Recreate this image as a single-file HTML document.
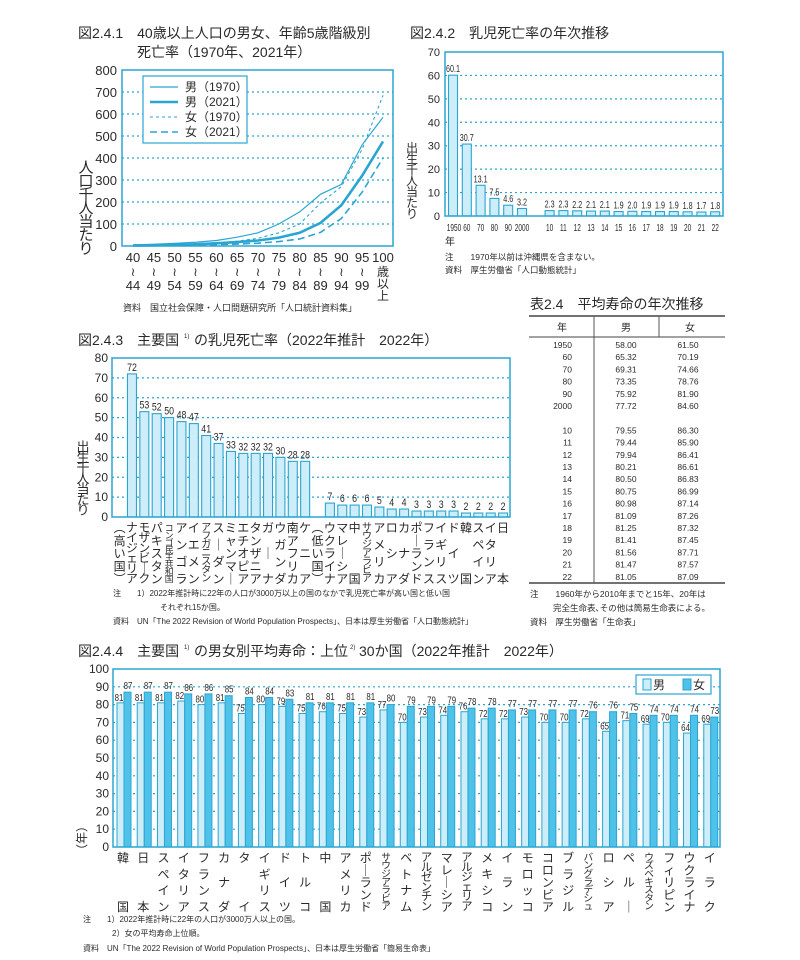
<!DOCTYPE html>
<html><head><meta charset="utf-8">
<style>
html,body{margin:0;padding:0;background:#fff;}
svg{display:block;font-family:"Liberation Sans","Noto Sans CJK JP",sans-serif;}
</style></head>
<body>
<svg id="page" width="800" height="960" viewBox="0 0 800 960" xmlns="http://www.w3.org/2000/svg"></svg>
<script>
// ===== Chart 2.4.1 data =====
const ageCats = ["40","45","50","55","60","65","70","75","80","85","90","95","100"];
const ageCatsEnd = ["44","49","54","59","64","69","74","79","84","89","94","99",""];
const male1970 = [5,8,12,17,25,40,60,100,155,235,280,460,585];
const male2021 = [2,3,5,8,12,18,25,38,60,105,185,320,475];
const female1970 = [3,5,7,10,15,22,35,60,100,195,270,440,685];
const female2021 = [1,2,3,4,6,9,13,20,32,62,125,245,400];
const c1Ticks = [0,100,200,300,400,500,600,700,800];
// ===== Chart 2.4.2 data =====
const imrYears = ["1950","60","70","80","90","2000","10","11","12","13","14","15","16","17","18","19","20","21","22"];
const imrValues = [60.1,30.7,13.1,7.5,4.6,3.2,2.3,2.3,2.2,2.1,2.1,1.9,2.0,1.9,1.9,1.9,1.8,1.7,1.8];
const c2Ticks = [0,10,20,30,40,50,60,70];
// ===== Chart 2.4.3 data =====
const highCountries = ["ナイジェリア","モザンビーク","パキスタン","コンゴ民主共和国","アンゴラ","イエメン","アフガニスタン","スーダン","ミャンマー","エチオピア","タンザニア","ガーナ","ウガンダ","南アフリカ","ケニア"];
const highValues = [72,53,52,50,48,47,41,37,33,32,32,32,30,28,28];
const lowCountries = ["ウクライナ","マレーシア","中国","サウジアラビア","アメリカ","ロシア","カナダ","ポーランド","フランス","イギリス","ドイツ","韓国","スペイン","イタリア","日本"];
const lowValues = [7,6,6,6,5,4,4,3,3,3,3,2,2,2,2];
const c3Ticks = [0,10,20,30,40,50,60,70,80];
// ===== Chart 2.4.4 data =====
const leCountries = ["韓国","日本","スペイン","イタリア","フランス","カナダ","タイ","イギリス","ドイツ","トルコ","中国","アメリカ","ポーランド","サウジアラビア","ベトナム","アルゼンチン","マレーシア","アルジェリア","メキシコ","イラン","モロッコ","コロンビア","ブラジル","バングラデシュ","ロシア","ペルー","ウズベキスタン","フィリピン","ウクライナ","イラク"];
const leMale = [81,81,81,82,80,81,75,80,79,75,76,75,73,77,70,73,74,76,72,72,73,70,70,72,65,71,69,70,64,69];
const leFemale = [87,87,87,86,86,85,84,84,83,81,81,81,81,80,79,79,79,78,78,77,77,77,77,76,76,75,74,74,74,73];
const c4Ticks = [0,10,20,30,40,50,60,70,80,90,100];
// ===== Table 2.4 data =====
const tblYears = ["1950","60","70","80","90","2000","","10","11","12","13","14","15","16","17","18","19","20","21","22"];
const tblMale = ["58.00","65.32","69.31","73.35","75.92","77.72","","79.55","79.44","79.94","80.21","80.50","80.75","80.98","81.09","81.25","81.41","81.56","81.47","81.05"];
const tblFemale = ["61.50","70.19","74.66","78.76","81.90","84.60","","86.30","85.90","86.41","86.61","86.83","86.99","87.14","87.26","87.32","87.45","87.71","87.57","87.09"];

const NS="http://www.w3.org/2000/svg";
const svg=document.getElementById('page');
const BLUE="#2aa5d2", LIGHT="#cdeef9", MID="#4fc2ea", TXT="#2a2a2a";
function el(tag,attrs,parent){const e=document.createElementNS(NS,tag);for(const k in attrs)e.setAttribute(k,attrs[k]);(parent||svg).appendChild(e);return e;}
function tx(parent,x,y,s,size,anchor,extra){const e=el('text',Object.assign({x:x,y:y,'font-size':size,'text-anchor':anchor||'start',fill:TXT},extra||{}),parent);e.textContent=s;return e;}
function vtext(parent,cx,top,bottom,str,fs){
  const chars=[...str.replace(/ー/g,'｜').replace(/（/g,'︵').replace(/）/g,'︶')];
  const n=chars.length;const step=n>1?(bottom-top)/(n-1):0;
  const size=n>1?Math.min(fs,step+1.5):fs;
  chars.forEach((c,i)=>{const t=tx(parent,cx,top+i*step,c,size,'middle',{'dominant-baseline':'central'});

});
}
function vtitle(parent,cx,top,str,fs,gap){
  [...str].forEach((c,i)=>{const t=tx(parent,cx,top+i*gap,c,fs,'middle',{'dominant-baseline':'central'});

});
}
// narrow text: horizontally compressed
function ntx(parent,x,y,s,size,sx){const t=tx(parent,0,0,s,size,'middle',{transform:'translate('+x+','+y+') scale('+sx+',1)'});return t;}

// ================= Chart 1 =================
(function(){
const g=el('g',{});


const L=122,R=393,T=70,B=246;
const x=i=>133+i*(383-133)/(ageCats.length-1);
const y=v=>B-(v/800)*(B-T);
let t=tx(g,78,38,"図2.4.1　40歳以上人口の男女、年齢5歳階級別",14);


t=tx(g,137,57,"死亡率（1970年、2021年）",14);


c1Ticks.forEach(v=>{
  if(v>0&&v<800){const gl=el('line',{x1:L,x2:R,y1:y(v),y2:y(v),stroke:BLUE,'stroke-width':1.2,'stroke-dasharray':'2,3'},g);

}
  const tl=tx(g,117,y(v)+5,String(v),13,'end');


});
const box=el('rect',{x:L,y:T,width:R-L,height:B-T,fill:'none',stroke:BLUE,'stroke-width':1.5},g);


const series=[[male1970,1.2,null,'male-1970-line'],[male2021,2.6,null,'male-2021-line'],[female1970,1.1,'3,3','female-1970-line'],[female2021,1.6,'7,4','female-2021-line']];
series.forEach(s=>{
  const p=el('polyline',{points:s[0].map((v,i)=>x(i)+','+y(v)).join(' '),fill:'none',stroke:BLUE,'stroke-width':s[1]},g);
  if(s[2])p.setAttribute('stroke-dasharray',s[2]);


});
const lg=el('rect',{x:143,y:76,width:104,height:67,fill:'#fff',stroke:BLUE,'stroke-width':1.2},g);


const labs=["男（1970）","男（2021）","女（1970）","女（2021）"];
series.forEach((s,i)=>{
  const yy=87+i*15;
  const l=el('line',{x1:150,x2:178,y1:yy,y2:yy,stroke:BLUE,'stroke-width':s[1]},g);
  if(s[2])l.setAttribute('stroke-dasharray',s[2]);


  const lt=tx(g,185,yy+4,labs[i],12);


});
ageCats.forEach((c,i)=>{
  let a=tx(g,x(i),262,c,13,'middle');


  if(i<ageCats.length-1){
    a=tx(g,x(i),276,"≀",12,'middle');


    a=tx(g,x(i),290,ageCatsEnd[i],13,'middle');


  } else {
    ["歳","以","上"].forEach((c2,k)=>{a=tx(g,x(i),276+k*12,c2,12,'middle');

});
  }
});
vtitle(g,86,168,"人口千人当たり",15,13.5);
t=tx(g,123,311,"資料　国立社会保障・人口問題研究所「人口統計資料集」",9);


})();

// ================= Chart 2 =================
(function(){
const g=el('g',{});


const L=445,R=723,T=52,B=216;
const y=v=>B-(v/70)*(B-T);
const xs=i=>453+(i<6?i:i+1)*13.8;
let t=tx(g,410,38,"図2.4.2　乳児死亡率の年次推移",14);


c2Ticks.forEach(v=>{
  if(v>0&&v<70){const gl=el('line',{x1:L,x2:R,y1:y(v),y2:y(v),stroke:BLUE,'stroke-width':1.2,'stroke-dasharray':'2,3'},g);

}
  const tl=tx(g,440,y(v)+4,String(v),11,'end');


});
imrValues.forEach((v,i)=>{
  const b=el('rect',{x:xs(i)-4.5,y:y(v),width:9,height:B-y(v),fill:LIGHT,stroke:BLUE,'stroke-width':1.1},g);


  const vl=ntx(g,xs(i),y(v)-3,v.toFixed(1),10,0.72);


  const xl=ntx(g,xs(i)+(i==0?1:0),231,imrYears[i],10.5,0.62);


});
const box=el('rect',{x:L,y:T,width:R-L,height:B-T,fill:'none',stroke:BLUE,'stroke-width':1.5},g);


t=tx(g,450,245,"年",10,'middle');


vtitle(g,412,148,"出生千人当たり",12,11);
t=tx(g,445,260,"注　　1970年以前は沖縄県を含まない。",8.5);


t=tx(g,445,273,"資料　厚生労働省「人口動態統計」",8.5);


})();

// ================= Table 2.4 =================
(function(){
const g=el('g',{});


let t=tx(g,530,309,"表2.4　平均寿命の年次推移",14);


[[316,1.5],[337,1],[583,1.5]].forEach(r=>{const l=el('line',{x1:529,x2:725,y1:r[0],y2:r[0],stroke:'#444','stroke-width':r[1]},g);

});
[594,659].forEach(xx=>{const l=el('line',{x1:xx,x2:xx,y1:316,y2:(xx==594?583:337),stroke:'#555','stroke-width':1},g);

});
[["年",562],["男",626],["女",690]].forEach(h=>{const e=tx(g,h[1],331,h[0],10,'middle');

});
tblYears.forEach((yv,i)=>{
  const yy=348+i*12.2;
  if(!yv)return;
  let e=tx(g,572,yy,yv,8.5,'end');


  e=tx(g,626,yy,tblMale[i],8.5,'middle');


  e=tx(g,688,yy,tblFemale[i],8.5,'middle');


});
t=tx(g,530,597,"注　　1960年から2010年までと15年、20年は",8.5);


t=tx(g,553,611,"完全生命表､その他は簡易生命表による。",8.5);


t=tx(g,530,625,"資料　厚生労働省「生命表」",8.5);


})();

// ================= Chart 3 =================
(function(){
const g=el('g',{});


const L=112,R=510,T=358,B=517;
const y=v=>B-(v/80)*(B-T);
const xs=s=>119.6+s*12.37;
let t=tx(g,78,345,"図2.4.3　主要国",14);


t=tx(g,184,338,"1)",6);


t=tx(g,194,345,"の乳児死亡率（2022年推計　2022年）",14);


c3Ticks.forEach(v=>{
  if(v>0&&v<80){const gl=el('line',{x1:L,x2:R,y1:y(v),y2:y(v),stroke:BLUE,'stroke-width':1.2,'stroke-dasharray':'2,3'},g);

}
  const tl=tx(g,108,y(v)+4,String(v),12,'end');


});
const cats=["（高い国）"].concat(highCountries,["（低い国）"],lowCountries);
const vals=[null].concat(highValues,[null],lowValues);
cats.forEach((c,s)=>{
  const v=vals[s];
  if(v!==null){
    const b=el('rect',{x:xs(s)-4.5,y:y(v),width:9,height:B-y(v),fill:LIGHT,stroke:BLUE,'stroke-width':1.1},g);


    const vl=ntx(g,xs(s),y(v)-3,String(v),11,0.8);


  }
  vtext(g,xs(s),528,579,c,12);
});
const box=el('rect',{x:L,y:T,width:R-L,height:B-T,fill:'none',stroke:BLUE,'stroke-width':1.5},g);


vtitle(g,83,447,"出生千人当たり",13,10.5);
t=tx(g,113,596,"注　　1）2022年推計時に22年の人口が3000万以上の国のなかで乳児死亡率が高い国と低い国",8);


t=tx(g,160,610,"それぞれ15か国。",8);


t=tx(g,113,624,"資料　UN「The 2022 Revision of World Population Prospects」、日本は厚生労働省「人口動態統計」",8);


})();

// ================= Chart 4 =================
(function(){
const g=el('g',{});


const L=113,R=720,T=669,B=847;
const y=v=>B-(v/100)*(B-T);
const sw=(R-L)/leCountries.length;
const sx=i=>L+i*sw;
let t=tx(g,78,656,"図2.4.4　主要国",14);


t=tx(g,184,649,"1)",6);


t=tx(g,194,656,"の男女別平均寿命：上位",14);


t=tx(g,350,649,"2)",6);


t=tx(g,359,656,"30か国（2022年推計　2022年）",14);


c4Ticks.forEach(v=>{
  if(v>0&&v<100){const gl=el('line',{x1:L,x2:R,y1:y(v),y2:y(v),stroke:BLUE,'stroke-width':1.2,'stroke-dasharray':'2,3'},g);

}
  const tl=tx(g,109,y(v)+4,String(v),12,'end');


});
leCountries.forEach((c,i)=>{
  const m=leMale[i],f=leFemale[i];
  const bm=el('rect',{x:sx(i)+4,y:y(m),width:7,height:B-y(m),fill:LIGHT,stroke:BLUE,'stroke-width':1},g);


  const bf=el('rect',{x:sx(i)+11,y:y(f),width:7,height:B-y(f),fill:MID,stroke:BLUE,'stroke-width':1},g);


  let vl=ntx(g,sx(i)+6,y(m)-2,String(m),10.5,0.75);


  vl=ntx(g,sx(i)+15,y(f)-3,String(f),10.5,0.75);


  vtext(g,sx(i)+10,858,907,c,12);
});
const box=el('rect',{x:L,y:T,width:R-L,height:B-T,fill:'none',stroke:BLUE,'stroke-width':1.5},g);


const lg=el('rect',{x:636,y:675,width:75,height:19,fill:'#fff',stroke:BLUE,'stroke-width':1.2},g);


let s=el('rect',{x:643,y:679,width:8,height:11,fill:LIGHT,stroke:BLUE,'stroke-width':1},g);


t=tx(g,653,689,"男",12);


s=el('rect',{x:683,y:679,width:8,height:11,fill:MID,stroke:BLUE,'stroke-width':1},g);


t=tx(g,693,689,"女",12);


t=tx(g,0,0,"（年）",12,'middle',{transform:'translate(82,838) rotate(-90)','dominant-baseline':'central'});


t=tx(g,83,922,"注　　1）2022年推計時に22年の人口が3000万人以上の国。",8);


t=tx(g,112,936,"2）女の平均寿命上位順。",8);


t=tx(g,83,951,"資料　UN「The 2022 Revision of World Population Prospects」、日本は厚生労働省「簡易生命表」",8);


})();
</script>
</body></html>
